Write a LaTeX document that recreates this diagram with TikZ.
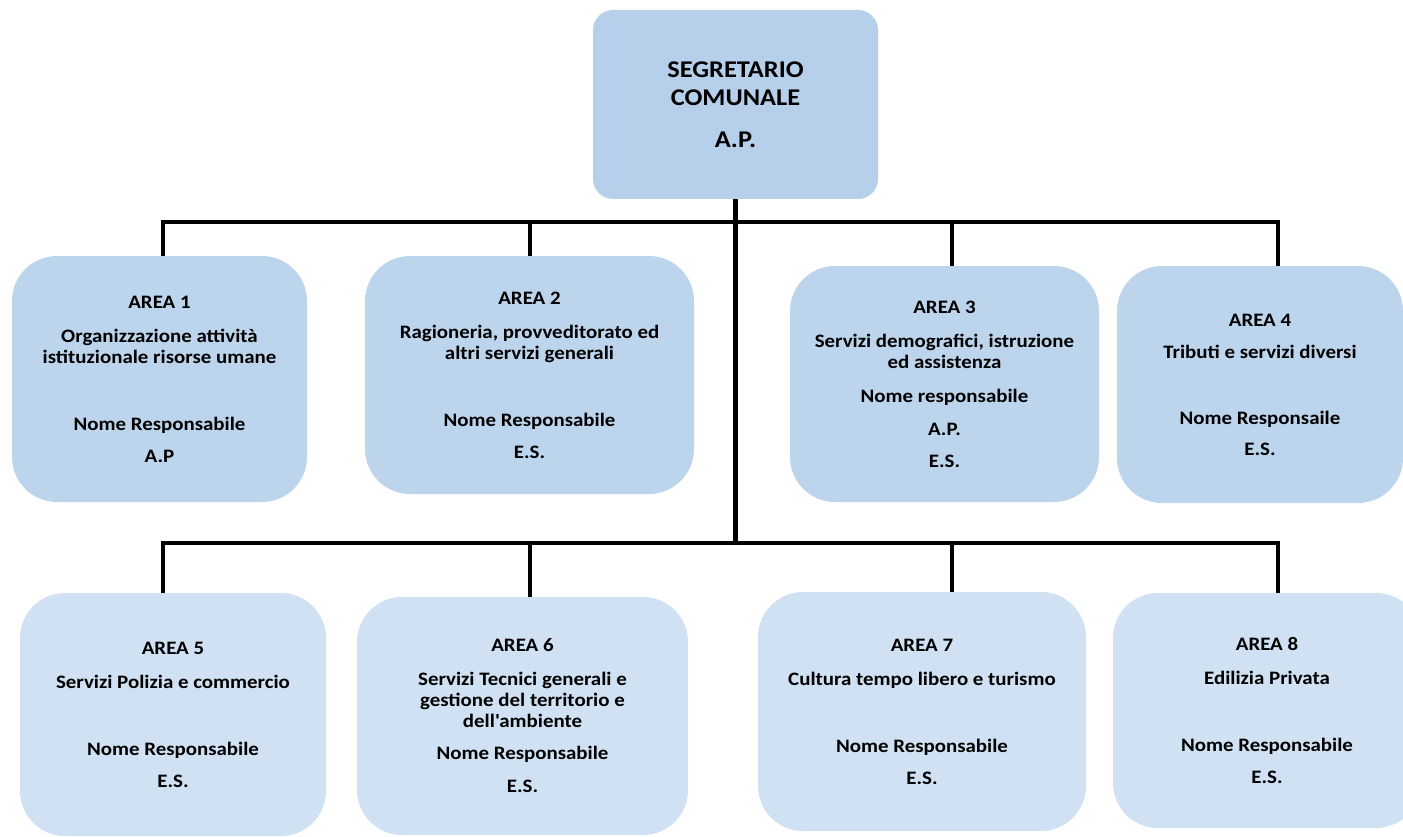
\documentclass[tikz,border=0pt]{standalone}
\usepackage{fontspec}
\newfontfamily\orgfont{Carlito}[FakeStretch=1.1]
\definecolor{topblue}{RGB}{182,207,234}
\definecolor{areablue}{RGB}{188,213,237}
\definecolor{lowblue}{RGB}{207,225,242}

\begin{document}
\begin{tikzpicture}[x=1pt, y=-1pt,
    area/.style={fill=areablue, rounded corners=45pt, inner sep=0pt, align=center,
      font=\orgfont\bfseries\fontsize{19}{21}\selectfont},
    lowarea/.style={area, fill=lowblue},
    link/.style={line width=4.5pt, line join=miter}]
  \useasboundingbox (0,0) rectangle (1403,837);
  \node[area, fill=topblue, rounded corners=20pt, minimum width=285pt, minimum height=189pt,
    font=\orgfont\bfseries\fontsize{24}{28}\selectfont] (seg) at (735.5,104.5)
    {SEGRETARIO\\COMUNALE\\[14pt]A.P.};

  \node[area, minimum width=295pt, minimum height=246pt] (a1) at (159.5,379)
    {AREA 1\\[13pt]Organizzazione attività\\istituzionale risorse umane\\[46pt]Nome Responsabile\\[11pt]A.P};
  \node[area, minimum width=329pt, minimum height=238pt] (a2) at (529.5,375)
    {AREA 2\\[13pt]Ragioneria, provveditorato ed\\altri servizi generali\\[46pt]Nome Responsabile\\[11pt]E.S.};
  \node[area, minimum width=309pt, minimum height=236pt] (a3) at (944.5,384)
    {AREA 3\\[13pt]Servizi demografici, istruzione\\ed assistenza\\[13pt]Nome responsabile\\[12pt]A.P.\\[11pt]E.S.};
  \node[area, minimum width=286pt, minimum height=237pt] (a4) at (1260,384.5)
    {AREA 4\\[11pt]Tributi e servizi diversi\\[45pt]Nome Responsaile\\[10pt]E.S.};

  \node[lowarea, minimum width=306pt, minimum height=243pt] (a5) at (173,714.5)
    {AREA 5\\[13pt]Servizi Polizia e commercio\\[46pt]Nome Responsabile\\[11pt]E.S.};
  \node[lowarea, minimum width=331pt, minimum height=238pt] (a6) at (522.5,716)
    {AREA 6\\[13pt]Servizi Tecnici generali e\\gestione del territorio e\\dell'ambiente\\[11pt]Nome Responsabile\\[12pt]E.S.};
  \node[lowarea, minimum width=328pt, minimum height=239pt] (a7) at (922,711.5)
    {AREA 7\\[13pt]Cultura tempo libero e turismo\\[46pt]Nome Responsabile\\[11pt]E.S.};
  \node[lowarea, minimum width=308pt, minimum height=235pt] (a8) at (1267,710.5)
    {AREA 8\\[13pt]Edilizia Privata\\[46pt]Nome Responsabile\\[11pt]E.S.};

  \coordinate (d1) at (163,222);
  \coordinate (d2) at (530,222);
  \coordinate (d3) at (952,222);
  \coordinate (d4) at (1278,222);
  \coordinate (e1) at (163,543);
  \coordinate (e2) at (530,543);
  \coordinate (e3) at (952,543);
  \coordinate (e4) at (1278,543);

  \draw[link] (seg.south) -- (seg.south |- e1);
  \draw[link] (a1.north -| d1) -- (d1) -- (d4) -- (a4.north -| d4);
  \draw[link] (a5.north -| e1) -- (e1) -- (e4) -- (a8.north -| e4);
  \foreach \p/\b in {d2/a2, d3/a3, e2/a6, e3/a7}
    \draw[link] (\p) -- (\b.north -| \p);
\end{tikzpicture}
\end{document}
